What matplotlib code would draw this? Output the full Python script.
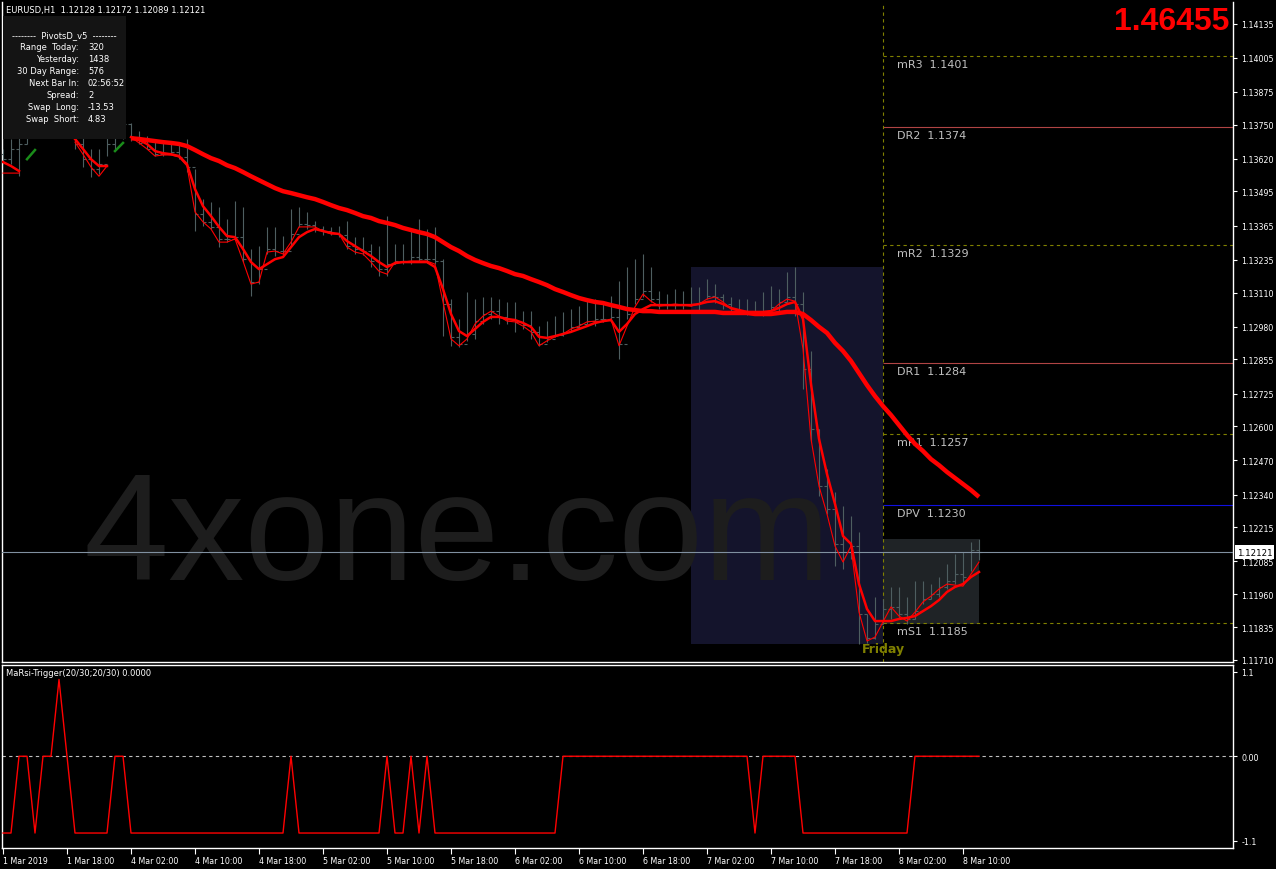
import matplotlib
matplotlib.use("Agg")
import matplotlib.pyplot as plt
import matplotlib.transforms as mtransforms
from matplotlib.patches import Rectangle
import numpy as np
import pandas as pd

plt.rcParams["font.family"] = ["DejaVu Sans"]

# ---- data (EURUSD H1, 1 Mar 10:00 .. 8 Mar 12:00) ----
times = pd.DatetimeIndex(
    list(pd.date_range("2019-03-01 10:00", "2019-03-01 23:00", freq="h"))
    + list(pd.date_range("2019-03-04 00:00", periods=109, freq="h"))
)

highs = [1.13657, 1.13695, 1.13703, 1.13809, 1.13847, 1.13866, 1.13885, 1.13904, 1.13866, 1.13771,
         1.13714, 1.13657, 1.13657, 1.13714, 1.13771, 1.13790, 1.13756, 1.13725, 1.13706, 1.13687,
         1.13683, 1.13676, 1.13683, 1.13695, 1.13580, 1.13466, 1.13455, 1.13436, 1.13390, 1.13458,
         1.13436, 1.13276, 1.13287, 1.13360, 1.13360, 1.13325, 1.13428, 1.13436, 1.13417, 1.13382,
         1.13363, 1.13360, 1.13363, 1.13382, 1.13321, 1.13321, 1.13295, 1.13287, 1.13401, 1.13295,
         1.13295, 1.13352, 1.13390, 1.13352, 1.13360, 1.13237, 1.13085, 1.13009, 1.13112, 1.13085,
         1.13093, 1.13093, 1.13085, 1.13074, 1.13074, 1.13039, 1.13039, 1.12982, 1.13001, 1.13020,
         1.13036, 1.13047, 1.13058, 1.13085, 1.13085, 1.13066, 1.13096, 1.13154, 1.13207, 1.13237,
         1.13257, 1.13207, 1.13116, 1.13104, 1.13123, 1.13116, 1.13131, 1.13131, 1.13161, 1.13142,
         1.13104, 1.13093, 1.13085, 1.13085, 1.13077, 1.13112, 1.13135, 1.13123, 1.13188, 1.13207,
         1.13112, 1.12887, 1.12590, 1.12437, 1.12349, 1.12296, 1.12258, 1.12197, 1.11885, 1.11950,
         1.11942, 1.11988, 1.11988, 1.11950, 1.12011, 1.12011, 1.11999, 1.12027, 1.12076, 1.12114,
         1.12121, 1.12159, 1.12172]

lows = [1.13599, 1.13599, 1.13553, 1.13676, 1.13733, 1.13752, 1.13771, 1.13790, 1.13733, 1.13657,
        1.13588, 1.13550, 1.13561, 1.13630, 1.13657, 1.13695, 1.13687, 1.13676, 1.13657, 1.13630,
        1.13630, 1.13637, 1.13618, 1.13569, 1.13344, 1.13363, 1.13352, 1.13283, 1.13302, 1.13314,
        1.13226, 1.13096, 1.13143, 1.13257, 1.13249, 1.13253, 1.13287, 1.13360, 1.13352, 1.13340,
        1.13329, 1.13329, 1.13321, 1.13276, 1.13257, 1.13253, 1.13207, 1.13172, 1.13172, 1.13218,
        1.13218, 1.13218, 1.13230, 1.13222, 1.13218, 1.12945, 1.12907, 1.12903, 1.12926, 1.12933,
        1.12990, 1.13009, 1.12990, 1.12990, 1.12960, 1.12971, 1.12933, 1.12907, 1.12922, 1.12941,
        1.12944, 1.12960, 1.12971, 1.12990, 1.12982, 1.12998, 1.13001, 1.12856, 1.13009, 1.13066,
        1.13093, 1.13074, 1.13047, 1.13047, 1.13047, 1.13047, 1.13058, 1.13036, 1.13085, 1.13070,
        1.13047, 1.13036, 1.13032, 1.13024, 1.13024, 1.13020, 1.13032, 1.13039, 1.13074, 1.13020,
        1.12742, 1.12541, 1.12334, 1.12266, 1.12067, 1.12056, 1.12094, 1.11771, 1.11775, 1.11790,
        1.11847, 1.11866, 1.11866, 1.11847, 1.11866, 1.11923, 1.11942, 1.11950, 1.11980, 1.11999,
        1.11999, 1.12048, 1.12089]

closes = [1.13618, 1.13657, 1.13676, 1.13771, 1.13809, 1.13828, 1.13847, 1.13847, 1.13752, 1.13676,
          1.13618, 1.13580, 1.13599, 1.13676, 1.13733, 1.13752, 1.13702, 1.13680, 1.13657, 1.13637,
          1.13637, 1.13645, 1.13626, 1.13588, 1.13409, 1.13378, 1.13360, 1.13314, 1.13314, 1.13321,
          1.13237, 1.13150, 1.13199, 1.13276, 1.13268, 1.13268, 1.13333, 1.13371, 1.13367, 1.13352,
          1.13344, 1.13337, 1.13329, 1.13287, 1.13276, 1.13268, 1.13230, 1.13199, 1.13218, 1.13230,
          1.13230, 1.13245, 1.13237, 1.13237, 1.13230, 1.13066, 1.12941, 1.12914, 1.12952, 1.13001,
          1.13028, 1.13039, 1.13017, 1.13009, 1.12998, 1.12986, 1.12960, 1.12914, 1.12933, 1.12948,
          1.12960, 1.12979, 1.12990, 1.13001, 1.13009, 1.13009, 1.13017, 1.12914, 1.13028, 1.13085,
          1.13115, 1.13085, 1.13066, 1.13062, 1.13066, 1.13062, 1.13066, 1.13074, 1.13096, 1.13093,
          1.13066, 1.13047, 1.13039, 1.13036, 1.13032, 1.13039, 1.13055, 1.13074, 1.13093, 1.13066,
          1.12818, 1.12590, 1.12372, 1.12285, 1.12152, 1.12121, 1.12144, 1.11885, 1.11794, 1.11847,
          1.11904, 1.11912, 1.11885, 1.11866, 1.11896, 1.11942, 1.11961, 1.11988, 1.12011, 1.12037,
          1.12026, 1.12128, 1.12121]

nan = np.nan
fast_ma = [1.13565, 1.13565, 1.13565, nan, nan, nan, nan, nan, nan, 1.13683,
           1.13637, 1.13588, 1.13553, 1.13592, nan, nan, 1.13702, 1.13680, 1.13657, 1.13630,
           1.13634, 1.13634, 1.13626, 1.13592, 1.13417, 1.13379, 1.13352, 1.13302, 1.13302, 1.13314,
           1.13230, 1.13142, 1.13150, 1.13264, 1.13268, 1.13257, 1.13302, 1.13360, 1.13360, 1.13360,
           1.13344, 1.13333, 1.13333, 1.13283, 1.13264, 1.13257, 1.13226, 1.13191, 1.13180, 1.13226,
           1.13226, 1.13230, 1.13230, 1.13230, 1.13218, 1.13074, 1.12933, 1.12907, 1.12933, 1.12990,
           1.13020, 1.13039, 1.13020, 1.13001, 1.12998, 1.12982, 1.12960, 1.12907, 1.12926, 1.12941,
           1.12952, 1.12971, 1.12982, 1.12998, 1.13001, 1.12998, 1.13009, 1.12907, 1.12982, 1.13055,
           1.13104, 1.13077, 1.13058, 1.13062, 1.13066, 1.13062, 1.13058, 1.13066, 1.13085, 1.13093,
           1.13074, 1.13047, 1.13039, 1.13036, 1.13036, 1.13036, 1.13039, 1.13066, 1.13085, 1.13077,
           1.12895, 1.12552, 1.12372, 1.12266, 1.12144, 1.12083, 1.12144, 1.11892, 1.11782, 1.11797,
           1.11855, 1.11912, 1.11877, 1.11858, 1.11892, 1.11931, 1.11953, 1.11980, 1.11999, 1.11995,
           1.11991, 1.12037, 1.12083]

mid_ma = [1.13607, 1.13592, 1.13573, nan, nan, nan, nan, nan, nan, 1.13695,
          1.13657, 1.13618, 1.13592, 1.13592, nan, nan, 1.13702, 1.13691, 1.13676, 1.13649,
          1.13641, 1.13637, 1.13630, 1.13599, 1.13504, 1.13439, 1.13401, 1.13360, 1.13325, 1.13321,
          1.13276, 1.13226, 1.13199, 1.13218, 1.13237, 1.13245, 1.13283, 1.13321, 1.13340, 1.13352,
          1.13344, 1.13337, 1.13333, 1.13306, 1.13287, 1.13268, 1.13249, 1.13226, 1.13207, 1.13222,
          1.13226, 1.13226, 1.13226, 1.13226, 1.13207, 1.13123, 1.13028, 1.12963, 1.12944, 1.12971,
          1.12998, 1.13017, 1.13017, 1.13009, 1.13005, 1.12994, 1.12979, 1.12941, 1.12937, 1.12944,
          1.12952, 1.12960, 1.12971, 1.12982, 1.12994, 1.13001, 1.13005, 1.12960, 1.12990, 1.13028,
          1.13047, 1.13062, 1.13062, 1.13062, 1.13062, 1.13062, 1.13062, 1.13066, 1.13074, 1.13077,
          1.13066, 1.13051, 1.13043, 1.13036, 1.13036, 1.13036, 1.13039, 1.13051, 1.13066, 1.13074,
          1.13009, 1.12761, 1.12552, 1.12418, 1.12304, 1.12182, 1.12152, 1.11999, 1.11904, 1.11858,
          1.11858, 1.11858, 1.11866, 1.11870, 1.11877, 1.11896, 1.11915, 1.11938, 1.11969, 1.11988,
          1.11999, 1.12026, 1.12045]

slow_ma = [nan] * 16 + [
    1.13698, 1.13695, 1.13691, 1.13687, 1.13683, 1.13680, 1.13676, 1.13668, 1.13653, 1.13637,
    1.13622, 1.13611, 1.13595, 1.13584, 1.13569, 1.13553, 1.13538, 1.13523, 1.13508, 1.13496,
    1.13489, 1.13481, 1.13473, 1.13466, 1.13455, 1.13443, 1.13432, 1.13424, 1.13413, 1.13401,
    1.13394, 1.13382, 1.13375, 1.13367, 1.13356, 1.13348, 1.13340, 1.13333, 1.13321, 1.13302,
    1.13283, 1.13268, 1.13249, 1.13234, 1.13222, 1.13211, 1.13203, 1.13192, 1.13180, 1.13173,
    1.13161, 1.13150, 1.13138, 1.13123, 1.13112, 1.13100, 1.13089, 1.13081, 1.13074, 1.13070,
    1.13062, 1.13055, 1.13047, 1.13043, 1.13039, 1.13039, 1.13036, 1.13036, 1.13036, 1.13036,
    1.13036, 1.13036, 1.13036, 1.13036, 1.13032, 1.13032, 1.13032, 1.13032, 1.13028, 1.13028,
    1.13028, 1.13032, 1.13036, 1.13036, 1.13028, 1.13005, 1.12979, 1.12956, 1.12918, 1.12887,
    1.12849, 1.12803, 1.12757, 1.12715, 1.12677, 1.12643, 1.12605, 1.12567, 1.12533, 1.12506,
    1.12475, 1.12452, 1.12426, 1.12403, 1.12380, 1.12357, 1.12331]

green_ma = [nan, nan, nan, 1.13618, 1.13653, nan, nan, nan, nan, nan,
            nan, nan, nan, nan, 1.13649, 1.13680] + [nan] * 107

trigger = [-1, -1, 0, 0, -1, 0, 0, 1, 0, -1,
           -1, -1, -1, -1, 0, 0, -1, -1, -1, -1,
           -1, -1, -1, -1, -1, -1, -1, -1, -1, -1,
           -1, -1, -1, -1, -1, -1, 0, -1, -1, -1,
           -1, -1, -1, -1, -1, -1, -1, -1, 0, -1,
           -1, 0, -1, 0, -1, -1, -1, -1, -1, -1,
           -1, -1, -1, -1, -1, -1, -1, -1, -1, -1,
           0, 0, 0, 0, 0, 0, 0, 0, 0, 0,
           0, 0, 0, 0, 0, 0, 0, 0, 0, 0,
           0, 0, 0, 0, -1, 0, 0, 0, 0, 0,
           -1, -1, -1, -1, -1, -1, -1, -1, -1, -1,
           -1, -1, -1, -1, 0, 0, 0, 0, 0, 0,
           0, 0, 0]

pivot_names = ["mR3", "DR2", "mR2", "DR1", "mR1", "DPV", "mS1"]
pivot_levels = [1.1401, 1.1374, 1.1329, 1.1284, 1.1257, 1.1230, 1.1185]
pivot_colors = ["#808000", "#b04444", "#808000", "#b04444", "#808000", "#1010e0", "#808000"]
pivot_dashed = [True, False, True, False, True, False, True]

price_ticks = [1.14135, 1.14005, 1.13875, 1.13750, 1.13620, 1.13495, 1.13365, 1.13235, 1.13110, 1.12980,
               1.12855, 1.12725, 1.12600, 1.12470, 1.12340, 1.12215, 1.12085, 1.11960, 1.11835, 1.11710]

info_labels = ["Range  Today:", "Yesterday:", "30 Day Range:", "Next Bar In:", "Spread:", "Swap  Long:", "Swap  Short:"]
info_values = ["320", "1438", "576", "02:56:52", "2", "-13.53", "4.83"]

big_value = "1.46455"
header = "EURUSD,H1  1.12128 1.12172 1.12089 1.12121"

# ---- figure ----
W, H = 1276, 870
fig = plt.figure(figsize=(W / 100, H / 100), dpi=100, facecolor="black")


def fx(px):
    return px / W


def fy(py):
    return 1 - py / H


x = np.arange(len(times))
opens = [1.13637] + closes[:-1]

ax = fig.add_axes([fx(2), fy(663), (1233 - 2) / W, (663 - 3) / H])
ind = fig.add_axes([fx(2), fy(849), (1233 - 2) / W, (849 - 665.5) / H], sharex=ax)
for a in (ax, ind):
    a.set_facecolor("black")
    for s in a.spines.values():
        s.set_color("white")
        s.set_linewidth(1)
ax.spines["top"].set_visible(False)

ax.set_xlim(-0.125, 153.75)
ax.set_ylim(1.11702, 1.14217)

# day sessions
days = times.normalize()
thu = np.where(days == pd.Timestamp("2019-03-07"))[0]
fri = np.where(days == pd.Timestamp("2019-03-08"))[0]
hi = np.array(highs)
lo = np.array(lows)
ax.add_patch(Rectangle((thu[0], lo[thu].min()), fri[0] - thu[0], hi[thu].max() - lo[thu].min(),
                       facecolor="#14142c", edgecolor="none", zorder=1))
ax.add_patch(Rectangle((fri[0], lo[fri].min()), fri[-1] - fri[0], hi[fri].max() - lo[fri].min(),
                       facecolor="#1f2326", edgecolor="none", zorder=1))

ax.text(0.3696, 0.1258, "4xone.com", transform=ax.transAxes, ha="center", va="baseline",
        fontsize=110, family="Liberation Sans", color="#1d1d1d", zorder=1.5)

# OHLC bars
bar_col = "#4e5e60"
ax.vlines(x, lows, highs, color=bar_col, lw=0.8, zorder=3)
ax.hlines(opens, x - 0.4, x, color=bar_col, lw=0.8, zorder=3)
ax.hlines(closes, x, x + 0.4, color=bar_col, lw=0.8, zorder=3)

# pivots
xr = ax.get_xlim()[1]
for name, lvl, col, dsh in zip(pivot_names, pivot_levels, pivot_colors, pivot_dashed):
    ax.hlines(lvl, fri[0], xr, color=col, lw=0.8, linestyles=(0, (3, 3)) if dsh else "solid", zorder=2)
    ax.annotate(f"{name}  {lvl:.4f}", (fri[0], lvl), xytext=(14, -3), textcoords="offset pixels",
                ha="left", va="top", fontsize=8, color="#c0c0c0", zorder=2)
ax.axvline(fri[0], color="#808000", lw=0.8, linestyle=(0, (3, 3)), zorder=2)
ax.text(fri[0], 0.02, "Friday", transform=mtransforms.blended_transform_factory(ax.transData, ax.transAxes),
        ha="center", va="center", fontsize=9, fontweight="bold", color="#808000", zorder=2)

# moving averages
ax.plot(x, slow_ma, color="#ff0000", lw=3.2, zorder=5, solid_capstyle="butt")
ax.plot(x, mid_ma, color="#ff0000", lw=1.8, zorder=5)
ax.plot(x, fast_ma, color="#ff0000", lw=0.8, zorder=5)
ax.plot(x, green_ma, color="#1a8c1a", lw=1.8, zorder=5)

# current price
last = closes[-1]
ax.axhline(last, color="#8090a0", lw=0.8, zorder=4)
ax.text(1.0030, last, f"{last:.5f}", transform=mtransforms.blended_transform_factory(ax.transAxes, ax.transData),
        ha="left", va="center", fontsize=6.2, color="black", zorder=7, clip_on=False,
        bbox=dict(boxstyle="square,pad=0.25", facecolor="white", edgecolor="none"))

ax.yaxis.tick_right()
ax.set_yticks(price_ticks)
ax.set_yticklabels([f"{v:.5f}" for v in price_ticks])
ax.tick_params(axis="y", colors="white", labelsize=5.7, length=3, width=0.8, pad=3)
ax.tick_params(axis="x", bottom=False, labelbottom=False)

# indicator panel
ind.plot(x, trigger, color="#ff0000", lw=1.0, zorder=3)
ind.axhline(0, color="#c0c0c0", lw=0.8, linestyle=(0, (3, 3)), zorder=2)
ind.set_ylim(-1.195, 1.195)
ind.yaxis.tick_right()
ind.set_yticks([1.1, 0.0, -1.1])
ind.set_yticklabels(["1.1", "0.00", "-1.1"])
ind.tick_params(axis="y", colors="white", labelsize=5.7, length=3, width=0.8, pad=3)
tick_idx = list(range(0, len(times), 8))
tick_lab = ["1 Mar 2019" if i == 0 else f"{times[i].day} {times[i]:%b %H:%M}" for i in tick_idx]
ind.set_xticks(tick_idx)
ind.set_xticklabels(tick_lab, ha="left")
ind.tick_params(axis="x", colors="white", labelsize=5.7, length=4, width=0.8, pad=2)
ind.text(0.003, 0.955, "MaRsi-Trigger(20/30;20/30) 0.0000", transform=ind.transAxes,
         ha="left", va="center", fontsize=6, color="white")

# overlays
fig.text(fx(6), fy(10.7), header, ha="left", va="center", fontsize=6, color="white", zorder=6)
fig.add_artist(Rectangle((fx(3), fy(140)), 123 / W, 123 / H, transform=fig.transFigure,
                         facecolor="#141414", edgecolor="none", zorder=5))
fig.text(fx(64), fy(35.7), "--------  PivotsD_v5  --------", ha="center", va="center",
         fontsize=6, color="white", zorder=6)
for k, (lab, val) in enumerate(zip(info_labels, info_values)):
    yy = fy(47.7 + 12 * k)
    fig.text(fx(79), yy, lab, ha="right", va="center", fontsize=6, color="white", zorder=6)
    fig.text(fx(88), yy, val, ha="left", va="center", fontsize=6, color="white", zorder=6)

fig.text(fx(1229), fy(7), big_value, ha="right", va="top", fontsize=23, fontweight="bold",
         family="Liberation Sans", color="#ff0000", zorder=6)

fig.savefig("out.png", dpi=100, facecolor="black")
